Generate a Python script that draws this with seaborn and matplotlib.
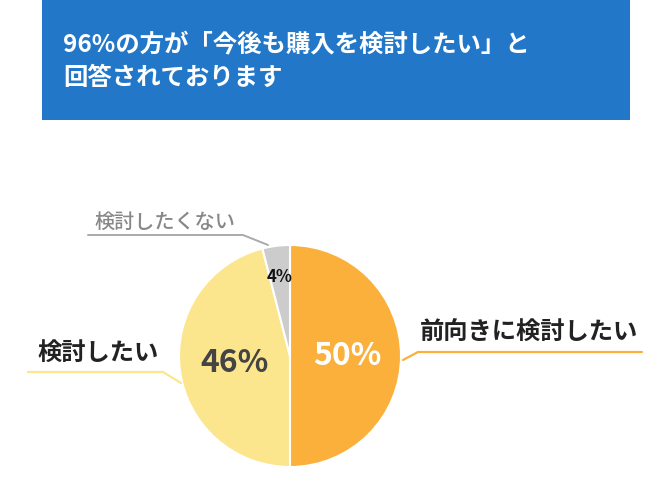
import numpy as np
import matplotlib
matplotlib.use("Agg")
import matplotlib.pyplot as plt
import seaborn as sns
from matplotlib.patches import Rectangle

# データ
labels = ['前向きに検討したい', '検討したい', '検討したくない']
values = [50, 46, 4]
colors = ['#FBB03B', '#FBE68E', '#CCCCCC']
pct_colors = ['white', '#444444', '#111111']
pct_sizes = [23, 23, 12]
pct_dist = [0.52, 0.5, 0.72]
title_lines = ['96%の方が「今後も購入を検討したい」と', '回答されております']

sns.set_theme(style='white')
plt.rcParams['font.family'] = ['Noto Sans CJK JP', 'DejaVu Sans']

W, H = 670, 504
fig = plt.figure(figsize=(6.7, 5.04), dpi=100)
ax = fig.add_axes([0, 0, 1, 1])

# 円グラフ（座標はピクセル、上端を y=504 とする）
cx, cy, r = 290, H - 356, 111
wedges, _ = ax.pie(values, colors=colors, startangle=90, counterclock=False,
                   center=(cx, cy), radius=r,
                   wedgeprops=dict(edgecolor='white', linewidth=1.5))

for w, c, s, d, v in zip(wedges, pct_colors, pct_sizes, pct_dist, values):
    ang = np.deg2rad((w.theta1 + w.theta2) / 2)
    ax.text(cx + d * r * np.cos(ang), cy + d * r * np.sin(ang), f'{v}%',
            ha='center', va='center', color=c, fontsize=s, fontweight='bold')

# 引き出し線とラベル
ax.plot([403, 418, 642], [H - 360, H - 352, H - 352], color=colors[0], lw=1.6)
ax.text(420, H - 333, labels[0], ha='left', va='center', fontsize=17.5,
        fontweight='bold', color='#222222')

ax.plot([181, 163, 28], [H - 383, H - 372, H - 372], color=colors[1], lw=1.6)
ax.text(37, H - 353, labels[1], ha='left', va='center', fontsize=17.5,
        fontweight='bold', color='#222222')

ax.plot([268, 243, 88], [H - 245, H - 235, H - 235], color='#AAAAAA', lw=1.4)
ax.text(94, H - 222, labels[2], ha='left', va='center', fontsize=14.5,
        fontweight='medium', color='#888888')

# タイトル帯
ax.add_patch(Rectangle((42, H - 120), 588, 120, facecolor='#2277C8', edgecolor='none'))
ax.text(63, H - 44, title_lines[0], ha='left', va='center', fontsize=17.6,
        fontweight='bold', color='white')
ax.text(63, H - 78, title_lines[1], ha='left', va='center', fontsize=17.6,
        fontweight='bold', color='white')

ax.set_xlim(0, W)
ax.set_ylim(0, H)
ax.set_aspect('auto')
ax.axis('off')

fig.savefig('out.png', dpi=100)
